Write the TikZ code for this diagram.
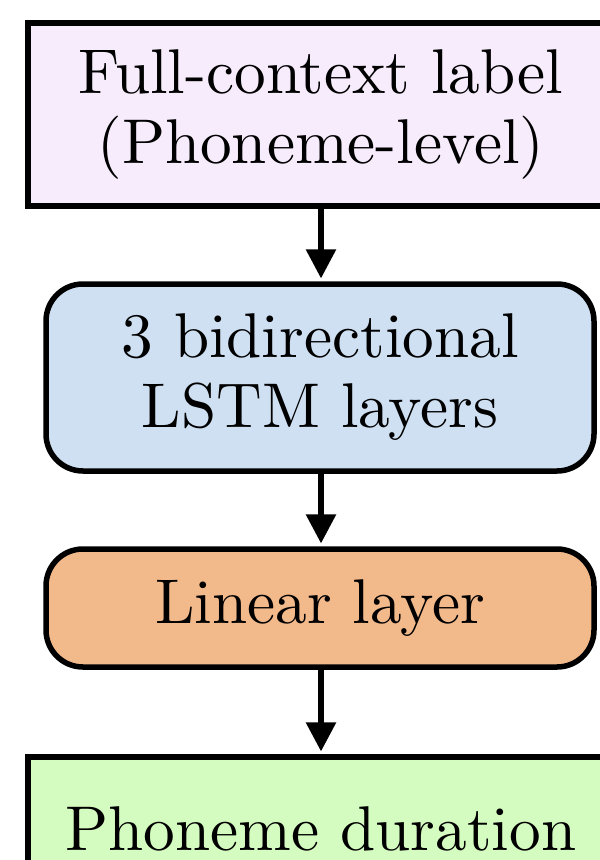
\documentclass[tikz,border=0pt]{standalone}
\usetikzlibrary{arrows.meta}

\definecolor{inputfill}{HTML}{F7ECFC}
\definecolor{lstmfill}{HTML}{CFE0F2}
\definecolor{linearfill}{HTML}{F2B98B}
\definecolor{outputfill}{HTML}{D5FCC0}

% one drawing unit
\def\u{0.1613pt}

\tikzset{
  blockbase/.style={draw=black, line width=5.5*\u, align=center, inner sep=0pt,
    font=\fontsize{10.2}{11.3}\selectfont},
  squarebox/.style={blockbase, rectangle},
  roundbox/.style={blockbase, rectangle, rounded corners=37*\u},
  flow/.style={line width=5.5*\u, shorten >=2.8*\u,
    -{Triangle[length=29*\u, width=29*\u]}},
}

\begin{document}
\begin{tikzpicture}[x=\u, y=-\u]
  \useasboundingbox (0,0) rectangle (599,860);

  \node[squarebox, fill=inputfill, minimum width=586*\u, minimum height=183*\u]
    (input) at (321,114.5) {Full-context label\\(Phoneme-level)};
  \node[roundbox, fill=lstmfill, minimum width=548*\u, minimum height=187*\u]
    (lstm) at (320,377.5) {3 bidirectional\\LSTM layers};
  \node[roundbox, fill=linearfill, minimum width=548*\u, minimum height=118*\u]
    (linear) at (320,608) {Linear layer};
  \node[squarebox, fill=outputfill, minimum width=586*\u, minimum height=143*\u]
    (output) at (321,828.5) {Phoneme duration};

  \draw[flow] (input.south) -- (lstm.north -| input.south);
  \draw[flow] (lstm.south -| input.south) -- (linear.north -| input.south);
  \draw[flow] (linear.south -| input.south) -- (output.north);
\end{tikzpicture}
\end{document}
